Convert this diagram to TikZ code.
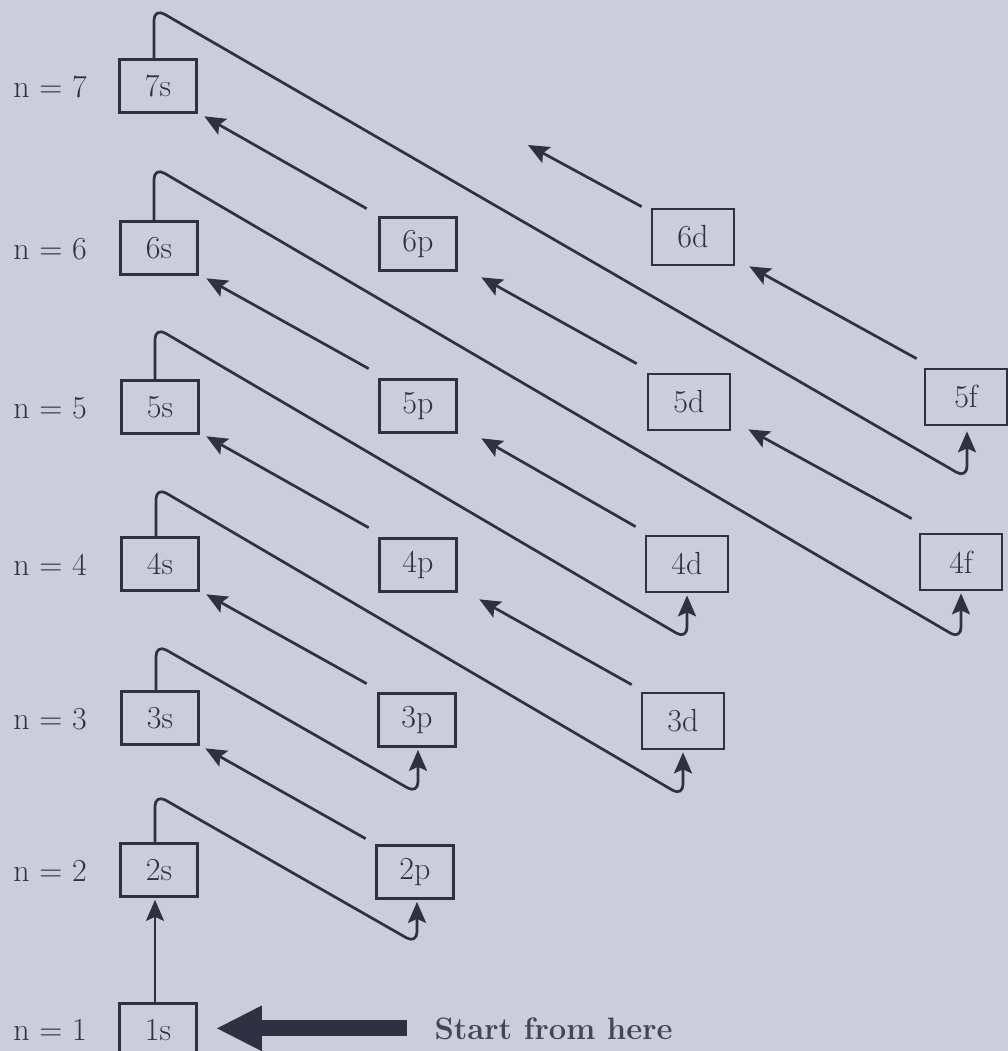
\documentclass[tikz,border=0pt]{standalone}
\usepackage{fontspec}
\usetikzlibrary{arrows.meta,calc}
\definecolor{paper}{RGB}{204,204,218}
\definecolor{ink}{RGB}{48,48,66}
\begin{document}
\begin{tikzpicture}[x=1pt,y=-1pt,
  orb/.style={draw=ink, line width=2.7pt, minimum width=77pt, minimum height=53pt,
    inner sep=0pt, font=\fontsize{32}{38}\selectfont, text=ink},
  orbw/.style={orb, minimum width=82pt, minimum height=56pt},
  lvl/.style={font=\fontsize{32}{38}\selectfont, text=ink},
  tip/.style={-{Stealth[length=21pt,width=18pt,inset=4pt]}},
  hook/.style={draw=ink, line width=2.7pt, rounded corners=12pt, tip, shorten >=2pt},
  jump/.style={draw=ink, line width=2.7pt, tip},
  bigarrow/.style={draw=ink, line width=16pt, -{Triangle[length=46pt,width=42pt]}},
  starttext/.style={font=\fontsize{31}{37}\selectfont\bfseries, text=ink!90}]
\useasboundingbox (0,0) rectangle (1008,1051);
\fill[paper] (0,0) rectangle (1008,1051);

% s column
\node[orb] (7s) at (158,86) {7s};
\node[orb] (6s) at (159,248) {6s};
\node[orb] (5s) at (160,407) {5s};
\node[orb] (4s) at (160,564) {4s};
\node[orb] (3s) at (160,718) {3s};
\node[orb] (2s) at (159,870) {2s};
\node[orb] (1s) at (158,1030) {1s};
% p column
\node[orb] (6p) at (418,244) {6p};
\node[orb] (5p) at (418,406) {5p};
\node[orb] (4p) at (418,565) {4p};
\node[orb] (3p) at (417,720) {3p};
\node[orb] (2p) at (415,872) {2p};
% d column
\node[orbw] (6d) at (693,237) {6d};
\node[orbw] (5d) at (689,402) {5d};
\node[orbw] (4d) at (687,564) {4d};
\node[orbw] (3d) at (683,721) {3d};
% f column
\node[orbw] (5f) at (966,397) {5f};
\node[orbw] (4f) at (961,562) {4f};

% level labels
\node[lvl] (n7) at (50,87) {n = 7};
\node[lvl] (n6) at (50,249) {n = 6};
\node[lvl] (n5) at (50,408) {n = 5};
\node[lvl] (n4) at (50,565) {n = 4};
\node[lvl] (n3) at (50,719) {n = 3};
\node[lvl] (n2) at (50,871) {n = 2};
\node[lvl] (n1) at (50,1030) {n = 1};

% start
\node[starttext, anchor=base west] (start) at (431,1039) {Start from here};
\draw[bigarrow] ($(start.west)+(-24,0)$) -- ($(1s.east |- start.west)+(18,0)$);

% 1s -> 2s
\draw[jump, shorten >=2pt] ([xshift=-3pt]1s.north) -- ([xshift=-3pt]1s.north |- 2s.south);

% hooks (s -> next)
\draw[hook] ([xshift=-4pt]2s.north) -- ($(2s.north)+(-4,-48)$) -- ($(2p.south)+(2,44)$) -- ([xshift=2pt]2p.south);
\draw[hook] ([xshift=-4pt]3s.north) -- ($(3s.north)+(-4,-46)$) -- ($(3p.south)+(1,46)$) -- ([xshift=1pt]3p.south);
\draw[hook] ([xshift=-4pt]4s.north) -- ($(4s.north)+(-4,-49)$) -- ($(3d.south)+(0,46)$) -- (3d.south);
\draw[hook] ([xshift=-5pt]5s.north) -- ($(5s.north)+(-5,-52)$) -- ($(4d.south)+(0,46)$) -- (4d.south);
\draw[hook] ([xshift=-5pt]6s.north) -- ($(6s.north)+(-5,-53)$) -- ($(4f.south)+(0,48)$) -- (4f.south);
\draw[hook, shorten >=5pt] ([xshift=-4pt]7s.north) -- ($(7s.north)+(-4,-50)$) -- ($(5f.south)+(1,52)$) -- ([xshift=1pt]5f.south);

% diagonal jumps
\draw[jump] ($(2p.north west)+(-9.5,-5.5)$) -- ($(3s.south east)+(5.5,2.5)$);
\draw[jump] ($(3p.north west)+(-10.5,-8.5)$) -- ($(4s.south east)+(6.5,2.5)$);
\draw[jump] ($(4p.north west)+(-9.5,-9.5)$) -- ($(5s.south east)+(6.5,1.5)$);
\draw[jump] ($(5p.north west)+(-9.5,-9.5)$) -- ($(6s.south east)+(7.5,2.5)$);
\draw[jump] ($(6p.north west)+(-11.5,-7.5)$) -- ($(7s.south east)+(6.5,2.5)$);
\draw[jump] ($(3d.north west)+(-9,-7)$) -- ($(4p.south east)+(21.5,6.5)$);
\draw[jump] ($(4d.north west)+(-9,-8)$) -- ($(5p.south east)+(23.5,4.5)$);
\draw[jump] ($(5d.north west)+(-10,-9)$) -- ($(6p.south east)+(23.5,5.5)$);
\draw[jump] ($(4f.north west)+(-7,-14)$) -- ($(5d.south east)+(17,-2)$);
\draw[jump] ($(5f.north west)+(-7,-9)$) -- ($(6d.south east)+(14,0)$);
\coordinate (next7p) at (528,145);
\draw[jump] ($(6d.north west)+(-9,-1)$) -- (next7p);
\end{tikzpicture}
\end{document}
